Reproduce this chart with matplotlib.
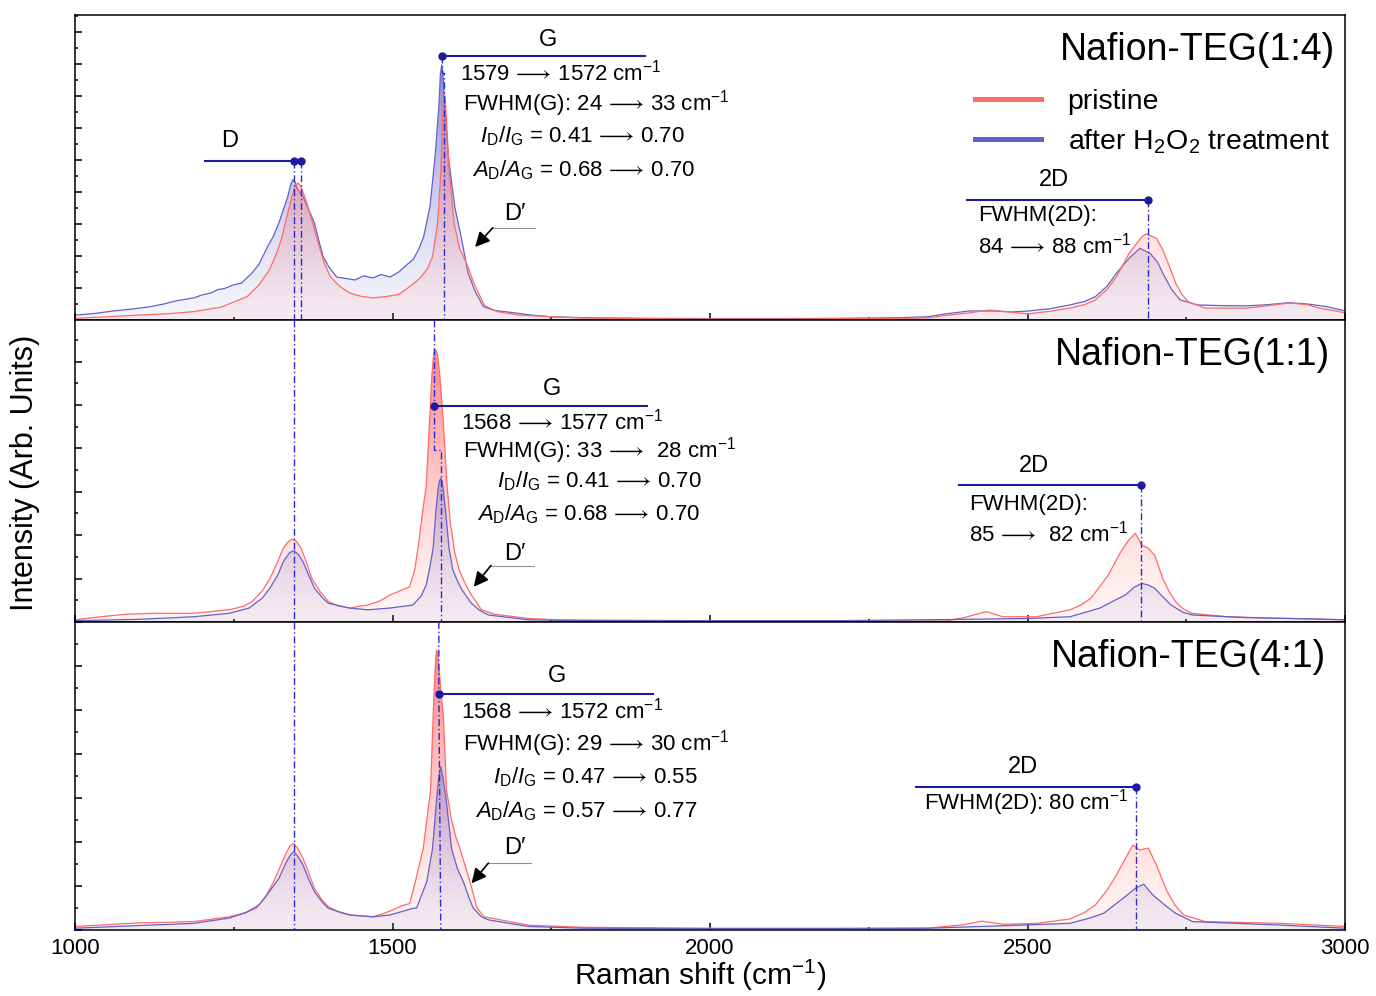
import numpy as np
import matplotlib
matplotlib.use("Agg")
import matplotlib.pyplot as plt
from matplotlib.colors import to_rgb
from matplotlib.lines import Line2D
from matplotlib.ticker import MultipleLocator

plt.rcParams['font.family'] = ['Liberation Sans', 'DejaVu Sans']
plt.rcParams['mathtext.fontset'] = 'custom'
plt.rcParams['mathtext.rm'] = 'Liberation Sans'
plt.rcParams['mathtext.it'] = 'Liberation Sans:italic'
plt.rcParams['mathtext.bf'] = 'Liberation Sans:bold'
plt.rcParams['mathtext.fallback'] = 'stixsans'

# spectra: (Raman shift cm-1, intensity a.u.)
top_pristine = [(1000, 0.05), (1050, 0.1), (1100, 0.15), (1150, 0.2), (1187, 0.26), (1230, 0.4),
                (1271, 0.73), (1290, 1.1), (1306, 1.56), (1318, 2.1), (1326, 2.6), (1340, 3.75),
                (1346, 4.15), (1351, 4.28), (1355, 4.2), (1358, 4.05), (1365, 3.66), (1374, 3.05),
                (1383, 2.4), (1392, 1.8), (1402, 1.35), (1417, 1.05), (1433, 0.84), (1450, 0.74),
                (1469, 0.69), (1490, 0.73), (1510, 0.8), (1527, 1.04), (1543, 1.3), (1555, 1.6),
                (1563, 1.98), (1571, 3.02), (1576, 4.58), (1578.5, 6.15), (1580, 6.85),
                (1581.6, 7.08), (1583.3, 6.85), (1585.3, 6.15), (1589.5, 4.58), (1597, 3.02),
                (1606, 2.2), (1612, 1.98), (1620, 1.6), (1627, 1.2), (1633, 0.94), (1645, 0.45),
                (1665, 0.26), (1700, 0.15), (1750, 0.1), (1800, 0.06), (1900, 0.04), (2000, 0.03),
                (2100, 0.03), (2200, 0.04), (2300, 0.05), (2342, 0.06), (2375, 0.15), (2408, 0.22),
                (2440, 0.31), (2470, 0.25), (2501, 0.19), (2535, 0.27), (2567, 0.37), (2590, 0.48),
                (2607, 0.63), (2625, 0.95), (2640, 1.35), (2660, 2.08), (2680, 2.6), (2687, 2.69),
                (2703, 2.55), (2713, 2.19), (2723, 1.7), (2733, 1.16), (2743, 0.8), (2753, 0.57),
                (2780, 0.37), (2846, 0.37), (2880, 0.45), (2912, 0.53), (2940, 0.48), (2959, 0.37),
                (2980, 0.3), (3000, 0.22)]
top_treated = [(1000, 0.15), (1030, 0.2), (1060, 0.28), (1090, 0.34), (1117, 0.41), (1140, 0.5),
               (1160, 0.6), (1187, 0.69), (1200, 0.78), (1215, 0.85), (1225, 0.95), (1235, 0.98),
               (1250, 1.1), (1262, 1.15), (1279, 1.47), (1290, 1.75), (1303, 2.28), (1312, 2.6),
               (1321, 3.03), (1335, 3.85), (1340, 4.25), (1343, 4.38), (1347, 4.3), (1350, 4.1),
               (1359, 3.85), (1368, 3.45), (1377, 3.03), (1385, 2.4), (1391, 1.97), (1400, 1.65),
               (1412, 1.34), (1425, 1.3), (1441, 1.25), (1455, 1.38), (1469, 1.31), (1482, 1.42),
               (1496, 1.34), (1510, 1.5), (1524, 1.75), (1533, 1.9), (1541, 2.2), (1549, 2.6),
               (1559, 3.54), (1567, 5.1), (1573, 6.67), (1575.5, 7.7), (1577.5, 7.97), (1579.5, 7.7),
               (1582, 6.67), (1588, 5.1), (1598, 3.54), (1609, 2.5), (1619, 1.46), (1630, 0.9),
               (1643, 0.42), (1660, 0.3), (1693, 0.22), (1720, 0.15), (1750, 0.1), (1800, 0.07),
               (1900, 0.05), (2000, 0.04), (2100, 0.04), (2200, 0.05), (2300, 0.07), (2342, 0.1),
               (2375, 0.2), (2408, 0.28), (2448, 0.28), (2475, 0.25), (2501, 0.28), (2535, 0.35),
               (2567, 0.47), (2590, 0.58), (2607, 0.73), (2625, 1.05), (2640, 1.46), (2660, 1.93),
               (2677, 2.24), (2693, 2.08), (2705, 1.8), (2713, 1.46), (2727, 0.95), (2740, 0.63),
               (2767, 0.47), (2800, 0.45), (2846, 0.44), (2880, 0.48), (2912, 0.54), (2940, 0.5),
               (2970, 0.42), (3000, 0.28)]

mid_pristine = [(1000, 0.05), (1040, 0.12), (1082, 0.18), (1130, 0.2), (1187, 0.2), (1243, 0.28),
                (1265, 0.36), (1279, 0.47), (1295, 0.72), (1307, 1.0), (1318, 1.35), (1328, 1.7),
                (1336, 1.85), (1342, 1.91), (1349, 1.85), (1356, 1.7), (1365, 1.35), (1373, 1.0),
                (1386, 0.7), (1399, 0.47), (1415, 0.37), (1433, 0.32), (1447, 0.36), (1461, 0.39),
                (1480, 0.48), (1496, 0.62), (1512, 0.72), (1527, 0.81), (1535, 1.2), (1542, 1.9),
                (1548, 2.6), (1553, 3.13), (1558, 4.5), (1562, 5.7), (1565, 6.2), (1567, 6.27),
                (1569, 6.25), (1571, 6.15), (1575, 5.6), (1580, 4.6), (1586, 3.13), (1591, 2.3),
                (1598, 1.6), (1605, 1.2), (1614, 0.9), (1623, 0.65), (1640, 0.28), (1660, 0.18),
                (1714, 0.08), (1760, 0.05), (1850, 0.04), (2000, 0.03), (2150, 0.03), (2300, 0.02),
                (2369, 0.02), (2400, 0.1), (2435, 0.24), (2461, 0.12), (2514, 0.12), (2540, 0.2),
                (2567, 0.28), (2585, 0.4), (2600, 0.55), (2613, 0.8), (2627, 1.08), (2647, 1.62),
                (2660, 1.9), (2670, 2.04), (2680, 1.77), (2690, 1.7), (2700, 1.54), (2706, 1.3),
                (2713, 1.0), (2723, 0.7), (2733, 0.47), (2745, 0.3), (2759, 0.2), (2813, 0.12),
                (2912, 0.08), (3000, 0.05)]
mid_treated = [(1000, 0.03), (1100, 0.06), (1187, 0.12), (1243, 0.2), (1274, 0.32), (1295, 0.55),
               (1307, 0.78), (1320, 1.1), (1328, 1.39), (1338, 1.6), (1345, 1.64), (1352, 1.55),
               (1359, 1.39), (1368, 1.08), (1377, 0.78), (1390, 0.55), (1399, 0.43), (1433, 0.32),
               (1461, 0.28), (1496, 0.32), (1532, 0.39), (1545, 0.6), (1553, 0.85), (1558, 1.2),
               (1564, 1.7), (1568, 2.5), (1572, 3.1), (1574, 3.25), (1576, 3.31), (1578, 3.25),
               (1580, 3.05), (1584, 2.5), (1589, 1.7), (1595, 1.2), (1602, 0.95), (1609, 0.75),
               (1616, 0.6), (1623, 0.45), (1636, 0.28), (1651, 0.16), (1714, 0.05), (1800, 0.03),
               (2000, 0.03), (2200, 0.03), (2400, 0.06), (2500, 0.08), (2567, 0.12), (2614, 0.32),
               (2640, 0.52), (2654, 0.62), (2668, 0.8), (2680, 0.89), (2690, 0.85), (2700, 0.78),
               (2713, 0.58), (2726, 0.39), (2745, 0.22), (2760, 0.16), (2846, 0.1), (2950, 0.07),
               (3000, 0.05)]

bot_pristine = [(1000, 0.08), (1050, 0.12), (1100, 0.16), (1187, 0.19), (1243, 0.3), (1265, 0.38),
                (1285, 0.49), (1300, 0.75), (1313, 1.1), (1322, 1.4), (1331, 1.7), (1338, 1.9),
                (1344, 1.97), (1351, 1.85), (1359, 1.63), (1368, 1.3), (1377, 0.95), (1388, 0.7),
                (1399, 0.53), (1416, 0.4), (1433, 0.34), (1450, 0.32), (1469, 0.3), (1483, 0.36),
                (1496, 0.43), (1515, 0.55), (1527, 0.6), (1536, 1.1), (1548.5, 1.86), (1554, 2.5),
                (1560, 3.18), (1564, 4.89), (1567, 5.9), (1568.5, 6.25), (1569.5, 6.36), (1571, 6.3),
                (1573, 6.0), (1577, 5.3), (1580, 4.89), (1585, 3.18), (1593, 2.5), (1600, 2.1),
                (1606, 1.86), (1622, 1.1), (1633, 0.5), (1644, 0.3), (1714, 0.11), (1800, 0.06),
                (2000, 0.04), (2200, 0.04), (2342, 0.04), (2400, 0.12), (2428, 0.2), (2461, 0.13),
                (2514, 0.15), (2567, 0.25), (2590, 0.4), (2607, 0.57), (2625, 0.9), (2640, 1.25),
                (2655, 1.65), (2666, 1.93), (2676, 1.82), (2690, 1.86), (2703, 1.48), (2712, 1.15),
                (2720, 0.87), (2733, 0.55), (2746, 0.34), (2780, 0.19), (2899, 0.15), (3000, 0.08)]
bot_treated = [(1000, 0.04), (1100, 0.1), (1187, 0.15), (1243, 0.27), (1270, 0.4), (1290, 0.57),
               (1305, 0.85), (1321, 1.17), (1333, 1.55), (1340, 1.72), (1345, 1.78), (1352, 1.65),
               (1359, 1.48), (1368, 1.15), (1377, 0.87), (1390, 0.62), (1399, 0.49), (1433, 0.34),
               (1469, 0.3), (1496, 0.34), (1515, 0.42), (1532, 0.49), (1538, 0.5), (1554, 1.1),
               (1563, 1.85), (1569.6, 2.99), (1573, 3.5), (1576, 3.71), (1579.5, 3.45), (1584.3, 2.99),
               (1593, 1.85), (1602, 1.4), (1611.5, 1.1), (1620, 0.75), (1627, 0.5), (1640, 0.3),
               (1651, 0.23), (1714, 0.08), (1800, 0.04), (2000, 0.03), (2200, 0.03), (2342, 0.04),
               (2450, 0.09), (2567, 0.15), (2600, 0.28), (2620, 0.38), (2654, 0.76), (2670, 0.95),
               (2683, 1.04), (2697, 0.8), (2715, 0.58), (2733, 0.38), (2760, 0.19), (2900, 0.11),
               (3000, 0.04)]

AR = "${\\,\\longrightarrow\\,}$"
sample_names = ["Nafion-TEG(1:4)", "Nafion-TEG(1:1)", "Nafion-TEG(4:1)"]
g_shift_text = ["1579" + AR + "1572 cm$^{-1}$", "1568" + AR + "1577 cm$^{-1}$",
                "1568" + AR + "1572 cm$^{-1}$"]
fwhm_g_text = ["FWHM(G): 24" + AR + "33 cm$^{-1}$", "FWHM(G): 33" + AR + " 28 cm$^{-1}$",
               "FWHM(G): 29" + AR + "30 cm$^{-1}$"]
id_ig_text = ["0.41" + AR + "0.70", "0.41" + AR + "0.70", "0.47" + AR + "0.55"]
ad_ag_text = ["0.68" + AR + "0.70", "0.68" + AR + "0.70", "0.57" + AR + "0.77"]
fwhm_2d_text = ["FWHM(2D):\n84" + AR + "88 cm$^{-1}$", "FWHM(2D):\n85" + AR + " 82 cm$^{-1}$",
                "FWHM(2D): 80 cm$^{-1}$"]

RED = '#ff6b6b'
BLUE = '#6262c8'
MARK = '#1c1ca0'
DASH = '#2a2ad0'
ylims = [305 / 32, 302 / 43.4, 308 / 44]


def gradient_fill(ax, pts, color, ytop, z):
    x, y = np.array(pts).T
    poly = ax.fill_between(x, y, 0, facecolor='none', edgecolor='none')
    frac = np.linspace(0, 1, 256)
    img = np.zeros((256, 1, 4))
    img[:, 0, :3] = to_rgb(color)
    img[:, 0, 3] = 0.07 + 0.88 * frac ** 1.4
    im = ax.imshow(img, extent=[1000, 3000, 0, ytop], origin='lower', aspect='auto', zorder=z)
    im.set_clip_path(poly.get_paths()[0], transform=ax.transData)
    ax.plot(x, y, color=color, lw=0.9, zorder=z + 0.5)


fig = plt.figure(figsize=(13.76, 9.96), dpi=100)
gs = fig.add_gridspec(3, 1, left=0.0545, right=0.9775, top=0.985, bottom=0.0663,
                      hspace=0, height_ratios=[305, 302, 308])
axes = [fig.add_subplot(gs[i]) for i in range(3)]
series = [(top_pristine, top_treated), (mid_pristine, mid_treated), (bot_pristine, bot_treated)]

for i, ax in enumerate(axes):
    ytop = ylims[i]
    pr, tr = series[i]
    if i == 0:
        gradient_fill(ax, tr, BLUE, ytop, 1)
        gradient_fill(ax, pr, RED, ytop, 2)
    else:
        gradient_fill(ax, pr, RED, ytop, 1)
        gradient_fill(ax, tr, BLUE, ytop, 2)
    ax.set_xlim(1000, 3000)
    ax.set_ylim(0, ytop)
    ax.set_axisbelow(True)
    ax.yaxis.set_major_locator(MultipleLocator(1))
    ax.yaxis.set_minor_locator(MultipleLocator(0.5))
    ax.xaxis.set_major_locator(MultipleLocator(500))
    ax.xaxis.set_minor_locator(MultipleLocator(250))
    ax.tick_params(which='both', direction='in', width=1.1, top=False, right=False,
                   labelleft=False, labelsize=16, pad=6)
    ax.tick_params(which='major', length=5)
    ax.tick_params(which='minor', length=2.5)
    if i < 2:
        ax.tick_params(labelbottom=False)
    for s in ax.spines.values():
        s.set_linewidth(1.1)
    ax.text(2984 - 7 * i, ytop * 0.885, sample_names[i], fontsize=27, ha='right', va='center', zorder=6)

dd = dict(color=DASH, lw=1.0, ls=(0, (5, 2, 1, 2)), zorder=5)
mk = dict(color=MARK, lw=1.5, zorder=5)
dot = dict(color=MARK, marker='o', ms=5, ls='none', zorder=6)
tx = dict(fontsize=16, va='center', zorder=6)
lb = dict(fontsize=17, va='center', ha='center', zorder=6)
arr = dict(arrowstyle='-|>', color='k', lw=1.2, mutation_scale=22, shrinkA=0, shrinkB=0)

# top panel
ax = axes[0]
ax.plot([1204.7, 1356], [4.98, 4.98], **mk)
ax.plot([1345, 1356], [4.98, 4.98], **dot)
ax.plot([1345, 1345], [4.98, 0], **dd)
ax.plot([1356, 1356], [4.98, 0], **dd)
ax.text(1244, 5.59, "D", **lb)
ax.plot([1577.5, 1898], [8.24, 8.24], **mk)
ax.plot([1577.5], [8.24], **dot)
ax.plot([1577.5, 1577.5, 1581.6, 1581.6], [8.24, 7.72, 7.72, 0], **dd)
ax.text(1745, 8.75, "G", **lb)
ax.text(1606, 7.72, g_shift_text[0], ha='left', **tx)
ax.text(1611, 6.75, fwhm_g_text[0], ha='left', **tx)
ax.text(1638, 5.75, "$I_{\\rm D}/I_{\\rm G}$ = " + id_ig_text[0], ha='left', **tx)
ax.text(1625, 4.69, "$A_{\\rm D}/A_{\\rm G}$ = " + ad_ag_text[0], ha='left', **tx)
ax.text(1693, 3.31, "D\u2032", **lb)
ax.plot([1658, 1724], [2.88, 2.88], color='#909090', lw=0.8, zorder=5)
ax.annotate('', xy=(1630, 2.28), xytext=(1658, 2.88), arrowprops=arr, zorder=6)
ax.plot([2405, 2690], [3.75, 3.75], **mk)
ax.plot([2690], [3.75], **dot)
ax.plot([2690, 2690], [3.75, 0], **dd)
ax.text(2542, 4.38, "2D", **lb)
ax.text(2422, 2.75, fwhm_2d_text[0], ha='left', linespacing=1.3, **tx)
handles = [Line2D([], [], color=RED, lw=3.6, label='pristine'),
           Line2D([], [], color=BLUE, lw=3.6, label='after H$_2$O$_2$ treatment')]
ax.legend(handles=handles, loc='center left', bbox_to_anchor=(0.7087, 0.648), frameon=False,
          prop={'family': ['Liberation Sans', 'DejaVu Sans'], 'size': 20.5},
          handlelength=2.3, handletextpad=0.95, labelspacing=0.42,
          borderpad=0, borderaxespad=0)

# middle panel
ax = axes[1]
ax.plot([1345, 1345], [ylims[1], 0], **dd)
ax.plot([1565, 1901], [4.98, 4.98], **mk)
ax.plot([1565], [4.98], **dot)
ax.plot([1565, 1565, 1575.6, 1575.6], [ylims[1], 3.96, 3.96, 0], **dd)
ax.text(1751, 5.37, "G", **lb)
ax.text(1608, 4.61, g_shift_text[1], ha='left', **tx)
ax.text(1611, 3.96, fwhm_g_text[1], ha='left', **tx)
ax.text(1665, 3.25, "$I_{\\rm D}/I_{\\rm G}$ = " + id_ig_text[1], ha='left', **tx)
ax.text(1633, 2.49, "$A_{\\rm D}/A_{\\rm G}$ = " + ad_ag_text[1], ha='left', **tx)
ax.text(1692, 1.57, "D\u2032", **lb)
ax.plot([1655, 1723], [1.30, 1.30], color='#909090', lw=0.8, zorder=5)
ax.annotate('', xy=(1628, 0.81), xytext=(1655, 1.30), arrowprops=arr, zorder=6)
ax.plot([2392, 2678], [3.16, 3.16], **mk)
ax.plot([2678], [3.16], **dot)
ax.plot([2678, 2678], [3.16, 0], **dd)
ax.text(2510, 3.59, "2D", **lb)
ax.text(2408, 2.34, fwhm_2d_text[1], ha='left', linespacing=1.3, **tx)

# bottom panel
ax = axes[2]
ax.plot([1345, 1345], [ylims[2], 0], **dd)
ax.plot([1573, 1911], [5.36, 5.36], **mk)
ax.plot([1573], [5.36], **dot)
ax.plot([1573, 1573, 1576], [ylims[2], 5.36, 0], **dd)
ax.text(1759, 5.77, "G", **lb)
ax.text(1608, 4.98, g_shift_text[2], ha='left', **tx)
ax.text(1611, 4.23, fwhm_g_text[2], ha='left', **tx)
ax.text(1658, 3.48, "$I_{\\rm D}/I_{\\rm G}$ = " + id_ig_text[2], ha='left', **tx)
ax.text(1630, 2.70, "$A_{\\rm D}/A_{\\rm G}$ = " + ad_ag_text[2], ha='left', **tx)
ax.text(1693, 1.86, "D\u2032", **lb)
ax.plot([1651, 1718], [1.52, 1.52], color='#909090', lw=0.8, zorder=5)
ax.annotate('', xy=(1624.5, 1.06), xytext=(1651, 1.52), arrowprops=arr, zorder=6)
ax.plot([2325, 2671.5], [3.26, 3.26], **mk)
ax.plot([2671.5], [3.26], **dot)
ax.plot([2671.5, 2671.5], [3.26, 0], **dd)
ax.text(2493, 3.70, "2D", **lb)
ax.text(2337, 2.89, fwhm_2d_text[2], ha='left', **tx)
ax.set_xlabel("Raman shift (cm$^{-1}$)", fontsize=21.5, va='bottom')
ax.xaxis.set_label_coords(0.492, -0.205)

fig.text(0.018, 0.525, "Intensity (Arb. Units)", rotation=90, fontsize=22, ha='center', va='center')

fig.savefig("out.png", dpi=100)
